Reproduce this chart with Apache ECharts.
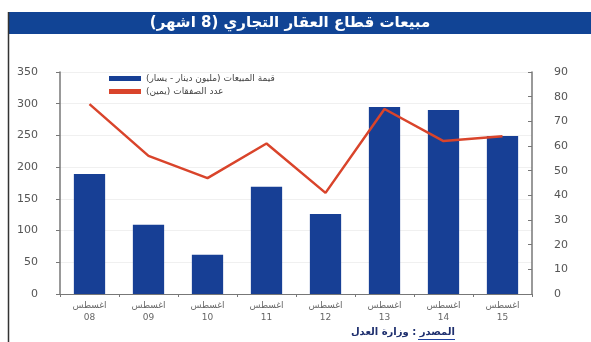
<!DOCTYPE html>
<html><head><meta charset="utf-8">
<script src="https://cdn.jsdelivr.net/npm/echarts@6/dist/echarts.min.js"></script>
<style>html,body{margin:0;padding:0;background:#fff}#c{width:591px;height:342px}</style>
</head><body><div id="c"></div>
<script>
var categories = ['اغسطس\n08','اغسطس\n09','اغسطس\n10','اغسطس\n11','اغسطس\n12','اغسطس\n13','اغسطس\n14','اغسطس\n15'];
var salesValue = [189, 109, 62, 169, 126, 295, 290, 249];
var dealsCount = [77, 56, 47, 61, 41, 75, 62, 64];
var leftTicks = {min: 0, max: 350, interval: 50};
var rightTicks = {min: 0, max: 90, interval: 10};
var titleText = 'مبيعات قطاع العقار التجاري (8 اشهر)';
var seriesNames = ['قيمة المبيعات (مليون دينار - يسار)', 'عدد الصفقات (يمين)'];
var sourceText = 'المصدر : وزارة العدل';

var chart = echarts.init(document.getElementById('c'), null, {renderer: 'canvas'});
var font = 'DejaVu Sans';
chart.setOption({
  animation: false,
  textStyle: {fontFamily: font},
  graphic: [
    {type: 'rect', left: 8, top: 12, shape: {width: 583, height: 22}, style: {fill: '#114495'}},
    {type: 'line', shape: {x1: 8.5, y1: 12, x2: 8.5, y2: 342}, style: {stroke: '#333', lineWidth: 1.5}},
    {type: 'text', x: 290, y: 23, style: {text: titleText, fill: '#fff', font: 'bold 15px "DejaVu Sans"', align: 'center', verticalAlign: 'middle'}},
    {type: 'text', x: 455, y: 332, style: {text: sourceText, fill: '#1e2f6e', font: 'bold 10px "DejaVu Sans"', align: 'right', verticalAlign: 'middle'}},
    {type: 'line', shape: {x1: 418, y1: 339.5, x2: 455, y2: 339.5}, style: {stroke: '#1e3f9e', lineWidth: 1}}
  ],
  legend: {
    left: 104, top: 69, orient: 'vertical', itemGap: 4,
    itemWidth: 32, itemHeight: 5,
    textStyle: {fontSize: 9, color: '#444', fontFamily: font},
    data: [
      {name: seriesNames[0], icon: 'rect'},
      {name: seriesNames[1], icon: 'rect', itemStyle: {color: '#d9442b'}}
    ]
  },
  grid: {left: 60, right: 59, top: 72, bottom: 48},
  xAxis: {
    type: 'category', data: categories,
    axisLine: {lineStyle: {color: '#777'}},
    axisTick: {show: true, length: 3, lineStyle: {color: '#777'}},
    axisLabel: {fontSize: 9, color: '#666', lineHeight: 12, margin: 6}
  },
  yAxis: [
    {type: 'value', min: leftTicks.min, max: leftTicks.max, interval: leftTicks.interval, position: 'left',
     axisLine: {show: true, lineStyle: {color: '#777', width: 1.5}},
     axisTick: {show: true, length: 4, lineStyle: {color: '#777'}},
     axisLabel: {fontSize: 11, color: '#555', margin: 22},
     splitLine: {show: true, lineStyle: {color: '#f0f0f0'}}},
    {type: 'value', min: rightTicks.min, max: rightTicks.max, interval: rightTicks.interval, position: 'right',
     axisLine: {show: true, lineStyle: {color: '#777', width: 1.5}},
     axisTick: {show: true, inside: true, length: 4, lineStyle: {color: '#777'}},
     axisLabel: {fontSize: 11, color: '#555', margin: 22},
     splitLine: {show: false}}
  ],
  series: [
    {name: seriesNames[0], type: 'bar', data: salesValue, yAxisIndex: 0, barWidth: '53%',
     itemStyle: {color: '#173f95'}},
    {name: seriesNames[1], type: 'line', data: dealsCount, yAxisIndex: 1, symbol: 'none',
     lineStyle: {color: '#d9442b', width: 2.5}, itemStyle: {color: '#d9442b'}, z: 5}
  ]
});
</script></body></html>
